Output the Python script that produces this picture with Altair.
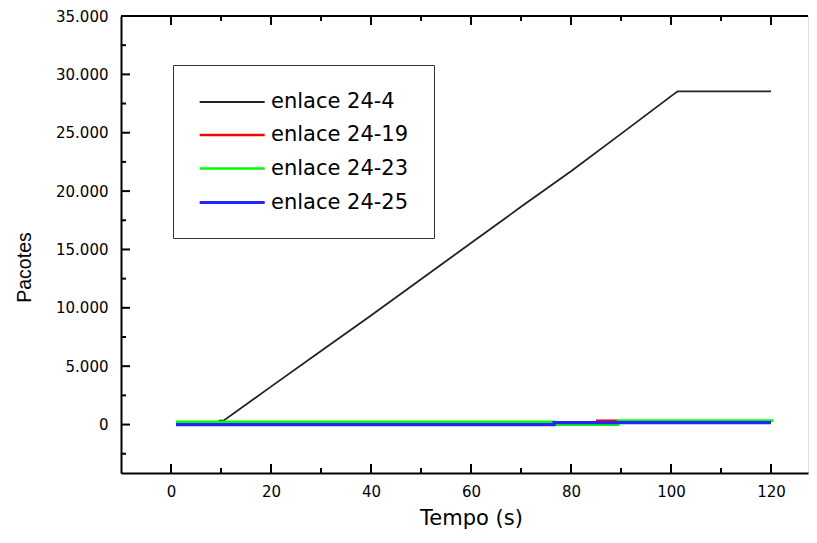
import altair as alt
import pandas as pd

# ---- data ----
series_names = ["enlace 24-4", "enlace 24-19", "enlace 24-23", "enlace 24-25"]
series_colors = ["#222222", "#ff0000", "#00ff00", "#2424ff"]
series_widths = [1.8, 3.2, 3.2, 2.2]

t_24_4 = [9.5, 10.5, 20, 30, 40, 50, 60, 70, 80, 90, 101.3, 120]
v_24_4 = [330, 330, 3250, 6300, 9350, 12450, 15550, 18650, 21700, 24900, 28550, 28550]
t_24_19 = [85, 89.4]
v_24_19 = [340, 340]
t_24_23 = [1, 76.6, 76.6, 89.4, 89.4, 120.5]
v_24_23 = [220, 220, 0, 0, 330, 330]
t_24_25 = [1, 76.6, 76.6, 120]
v_24_25 = [0, 0, 170, 170]

x_major = [0, 20, 40, 60, 80, 100, 120]
x_minor = [10, 30, 50, 70, 90, 110]
y_major = [0, 5000, 10000, 15000, 20000, 25000, 30000, 35000]
y_minor = [-2500, 2500, 7500, 12500, 17500, 22500, 27500, 32500]

x_domain = [-10, 127.4]
y_domain = [-4150, 35000]

W, H = 687, 457

series_t = [t_24_4, t_24_19, t_24_23, t_24_25]
series_v = [v_24_4, v_24_19, v_24_23, v_24_25]

frames = []
for name, ts, vs in zip(series_names, series_t, series_v):
    frames.append(pd.DataFrame({"t": ts, "v": vs, "s": name, "i": list(range(len(ts)))}))

x_scale = alt.Scale(domain=x_domain, nice=False, zero=False)
y_scale = alt.Scale(domain=y_domain, nice=False, zero=False)

x_axis = alt.Axis(
    values=x_major, ticks=False, grid=False, domain=True, domainColor="black", domainWidth=2,
    labelFont="DejaVu Sans", labelFontSize=15, labelColor="black", labelPadding=11,
    title="Tempo (s)", titleFont="DejaVu Sans", titleFontSize=21, titleFontWeight="normal",
    titleColor="black", titleX=350, titleY=51, titleBaseline="alphabetic", titleAlign="center",
)
y_axis = alt.Axis(
    values=y_major, ticks=False, grid=False, domain=True, domainColor="black", domainWidth=2,
    labelFont="DejaVu Sans", labelFontSize=15, labelColor="black", labelPadding=13,
    labelExpr="replace(format(datum.value, ',d'), ',', '.')",
    title="Pacotes", titleFont="Liberation Sans", titleFontSize=19.5, titleFontWeight="normal",
    titleColor="black", titleAngle=270, titleX=-91, titleY=251, titleBaseline="alphabetic",
    titleAlign="center",
)

legend = alt.Legend(
    title=None, orient="none", legendX=52, legendY=49,
    symbolType="M-1,0H5", symbolSize=470, labelOffset=48,
    labelFont="DejaVu Sans", labelFontSize=21, labelColor="black",
    padding=25, rowPadding=11, strokeColor="#333333", fillColor="white",
    cornerRadius=0,
)

color_enc = alt.Color("s:N", scale=alt.Scale(domain=series_names, range=series_colors), legend=legend)
width_enc = alt.StrokeWidth("s:N", scale=alt.Scale(domain=series_names, range=series_widths), legend=legend)

layers = []
for df in frames:
    layers.append(
        alt.Chart(df).mark_line(strokeCap="butt", strokeJoin="miter").encode(
            x=alt.X("t:Q", scale=x_scale, axis=x_axis),
            y=alt.Y("v:Q", scale=y_scale, axis=y_axis),
            color=color_enc,
            strokeWidth=width_enc,
            order=alt.Order("i:Q"),
        )
    )

# inward tick marks (on the bottom, top and left frames)
def xticks(vals, y0, y1):
    return alt.Chart(pd.DataFrame({"t": vals})).mark_rule(color="black", strokeWidth=2).encode(
        x=alt.X("t:Q", scale=x_scale, axis=x_axis), y=alt.value(y0), y2=alt.value(y1))

def yticks(vals, x0, x1):
    return alt.Chart(pd.DataFrame({"v": vals})).mark_rule(color="black", strokeWidth=2).encode(
        y=alt.Y("v:Q", scale=y_scale, axis=y_axis), x=alt.value(x0), x2=alt.value(x1))

tick_layers = [
    xticks(x_major, H, H - 9), xticks(x_minor, H, H - 5),
    xticks(x_major, 0, 9), xticks(x_minor, 0, 5),
    yticks(y_major, 0, 9), yticks(y_minor, 0, 5),
]

top_border = alt.Chart(pd.DataFrame({"k": [0]})).mark_rule(color="black", strokeWidth=2).encode(
    x=alt.value(0), x2=alt.value(W), y=alt.value(0))

chart = alt.layer(*tick_layers, top_border, *layers).properties(
    width=W, height=H,
    autosize=alt.AutoSizeParams(type="none"),
    padding={"left": 113, "top": 8, "right": 1, "bottom": 56},
).configure_view(stroke=None).configure(background="white")

chart.save("out.html", embed_options={"renderer": "svg", "actions": False})
